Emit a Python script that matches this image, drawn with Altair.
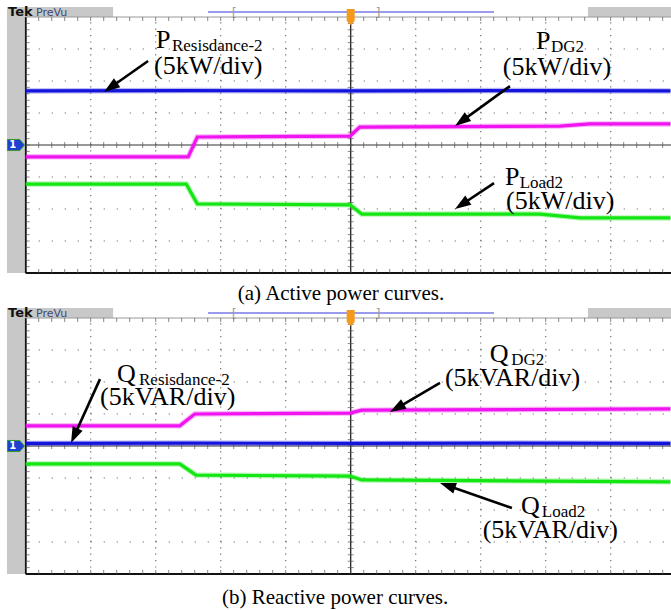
import math
import altair as alt
import pandas as pd

# ---------------- data (units: oscilloscope divisions) ----------------
# (a) active power traces
p_res_t = [0.0, 2.5, 5.0, 7.5, 9.92]
p_res_v = [1.69, 1.70, 1.69, 1.70, 1.69]
p_dg_t = [0.0, 2.50, 2.64, 4.99, 5.14, 8.22, 8.68, 9.92]
p_dg_v = [-0.37, -0.37, 0.25, 0.28, 0.56, 0.59, 0.66, 0.66]
p_load_t = [0.0, 2.47, 2.64, 4.99, 5.17, 7.91, 8.53, 9.92]
p_load_v = [-1.22, -1.22, -1.84, -1.87, -2.16, -2.16, -2.28, -2.28]
# (b) reactive power traces
q_res_t = [0.0, 2.5, 5.0, 7.5, 9.92]
q_res_v = [0.08, 0.09, 0.08, 0.09, 0.08]
q_dg_t = [0.0, 2.37, 2.60, 4.99, 5.17, 9.92]
q_dg_v = [0.63, 0.63, 1.00, 1.03, 1.12, 1.16]
q_load_t = [0.0, 2.37, 2.62, 4.99, 5.17, 9.92]
q_load_v = [-0.56, -0.56, -0.91, -0.94, -1.06, -1.12]

# annotation texts
a_main_text = ["P", "(5kW/div)", "P", "(5kW/div)", "P", "(5kW/div)"]
a_sub_text = ["Resisdance-2", "DG2", "Load2"]
b_main_text = ["Q", "(5kVAR/div)", "Q", "(5kVAR/div)", "Q", "(5kVAR/div)"]
b_sub_text = ["Resisdance-2", "DG2", "Load2"]
captions = ["(a) Active power curves.", "(b) Reactive power curves."]

# ---------------- layout / style (kept apart from data) ----------------
CW, CH = 671, 610
PX_X, PX_Y = 65.0, 32.0
XMAX = 9.928
BLUE, MAGENTA, GREEN = "#1414dc", "#f014f0", "#14e614"
SERIF = "Liberation Serif"

a_main_pos = [(2.005, 3.02), (1.974, 2.22), (7.85, 2.99), (7.34, 2.19), (7.375, -1.26), (7.39, -2.00)]
a_sub_pos = [(2.25, 2.94), (8.08, 2.91), (7.60, -1.34)]
a_arrows = [(1.883, 2.625, 1.205, 1.656), (7.45, 1.84, 6.605, 0.594), (7.205, -1.19, 6.605, -2.0)]
b_main_pos = [(1.405, 1.99), (1.143, 1.28), (7.14, 2.61), (6.45, 1.88), (7.62, -2.14), (7.03, -2.87)]
b_sub_pos = [(1.743, 1.91), (7.47, 2.53), (7.94, -2.22)]
b_arrows = [(1.143, 2.09, 0.697, 0.094), (6.374, 1.97, 5.605, 1.06), (7.48, -1.94, 6.374, -1.156)]
caption_pos = [(4.85, -4.84), (4.76, -4.94)]

# scales: whole canvas is the plot area; each panel has its own y mapping
XS = alt.Scale(domain=[-25.7 / PX_X, XMAX], nice=False, zero=False)
YS_A = alt.Scale(domain=[4 + 17 / PX_Y - CH / PX_Y, 4 + 17 / PX_Y], nice=False, zero=False)
YS_B = alt.Scale(domain=[4 + 318 / PX_Y - CH / PX_Y, 4 + 318 / PX_Y], nice=False, zero=False)


def make_layers(ys, traces, main_text, main_pos, sub_text, sub_pos, arrows, cap, cap_pos):
    def X(f="x"):
        return alt.X(f"{f}:Q", scale=XS, axis=None)

    def Y(f="y"):
        return alt.Y(f"{f}:Q", scale=ys, axis=None)

    layers = []
    # gray frame pieces: header bar + left strip
    rects = pd.DataFrame([
        dict(x=-0.288, x2=1.345, y=4.0, y2=4.31, c="#c8c8c8"),
        dict(x=8.65, x2=XMAX, y=4.0, y2=4.31, c="#c8c8c8"),
        dict(x=-0.288, x2=-0.026, y=-4.0, y2=4.31, c="#c8c8c8"),
    ])
    layers.append(alt.Chart(rects).mark_rect().encode(
        x=X(), x2="x2", y=Y(), y2="y2", color=alt.Color("c:N", scale=None)))
    # dotted grid
    vg = pd.DataFrame(dict(x=[1, 2, 3, 4, 6, 7, 8, 9], y=[-4] * 8, y2=[4] * 8))
    layers.append(alt.Chart(vg).mark_rule(color="#6e6e6e", strokeWidth=1.2, strokeDash=[1.2, 5.2]).encode(
        x=X(), y=Y(), y2="y2"))
    hg = pd.DataFrame(dict(y=[-3, -2, -1, 1, 2, 3], x=[0] * 6, x2=[XMAX] * 6))
    layers.append(alt.Chart(hg).mark_rule(color="#6e6e6e", strokeWidth=1.2, strokeDash=[1.2, 11.8]).encode(
        x=X(), x2="x2", y=Y()))
    # blue preview line in header
    layers.append(alt.Chart(pd.DataFrame([dict(x=2.805, x2=7.205, y=4.156)])).mark_rule(
        color="#7878e8", strokeWidth=1.5).encode(x=X(), x2="x2", y=Y()))
    # brackets
    br = pd.DataFrame([dict(x=3.17, y=4.0, t="["), dict(x=5.38, y=4.0, t="]")])
    layers.append(alt.Chart(br).mark_text(font="DejaVu Sans", fontSize=13, color="#a0a0a0",
                                          align="left", baseline="alphabetic").encode(
        x=X(), y=Y(), text="t:N"))
    # Tek / PreVu
    layers.append(alt.Chart(pd.DataFrame([dict(x=-0.272, y=4.03, t="Tek")])).mark_text(
        font="DejaVu Sans", fontSize=13, fontWeight="bold", color="#111111",
        align="left", baseline="alphabetic").encode(x=X(), y=Y(), text="t:N"))
    layers.append(alt.Chart(pd.DataFrame([dict(x=0.16, y=4.03, t="PreVu")])).mark_text(
        font="DejaVu Sans", fontSize=11, color="#3c4a78",
        align="left", baseline="alphabetic").encode(x=X(), y=Y(), text="t:N"))
    # border and centre lines
    border = pd.DataFrame([
        dict(x=0, x2=0, y=-4, y2=4, c="#111111", w=2.0),
        dict(x=0, x2=XMAX, y=-4, y2=-4, c="#111111", w=2.0),
        dict(x=0, x2=XMAX, y=4, y2=4, c="#9a9a9a", w=1.0),
        dict(x=5, x2=5, y=-4, y2=4, c="#222222", w=1.3),
        dict(x=0, x2=XMAX, y=0, y2=0, c="#333333", w=1.0),
    ])
    layers.append(alt.Chart(border).mark_rule().encode(
        x=X(), x2="x2", y=Y(), y2="y2", color=alt.Color("c:N", scale=None),
        strokeWidth=alt.StrokeWidth("w:Q", scale=None)))
    # minor ticks
    xm = [round(0.2 * k, 2) for k in range(1, 50) if 0.2 * k < XMAX]
    ym = [round(-4 + 0.2 * k, 2) for k in range(1, 40)]
    tc = "#555555"
    layers.append(alt.Chart(pd.DataFrame(dict(x=xm, y=[4.0] * len(xm)))).mark_tick(
        orient="vertical", size=4, thickness=1, yOffset=2, color=tc).encode(x=X(), y=Y()))
    layers.append(alt.Chart(pd.DataFrame(dict(x=xm, y=[-4.0] * len(xm)))).mark_tick(
        orient="vertical", size=4, thickness=1, yOffset=-2, color=tc).encode(x=X(), y=Y()))
    layers.append(alt.Chart(pd.DataFrame(dict(x=xm, y=[0.0] * len(xm)))).mark_tick(
        orient="vertical", size=6, thickness=1, color=tc).encode(x=X(), y=Y()))
    layers.append(alt.Chart(pd.DataFrame(dict(x=[0.0] * len(ym), y=ym))).mark_tick(
        orient="horizontal", size=4, thickness=1, xOffset=2, color=tc).encode(x=X(), y=Y()))
    layers.append(alt.Chart(pd.DataFrame(dict(x=[5.0] * len(ym), y=ym))).mark_tick(
        orient="horizontal", size=6, thickness=1, color=tc).encode(x=X(), y=Y()))
    # orange trigger marker
    layers.append(alt.Chart(pd.DataFrame([dict(x=5.0, y=4.0)])).mark_point(
        shape="M-0.5,-1L0.5,-1L0.5,0.5L0,1L-0.5,0.5Z", size=256, filled=True,
        color="#f39a1c", opacity=1).encode(x=X(), y=Y()))
    # channel 1 marker
    layers.append(alt.Chart(pd.DataFrame([dict(x=-0.15, y=0.0)])).mark_point(
        shape="M-1,-0.65L0.45,-0.65L1,0L0.45,0.65L-1,0.65Z", size=289, filled=True,
        fill="#2040d0", stroke="#2e9b2e", strokeWidth=1, opacity=1).encode(x=X(), y=Y()))
    layers.append(alt.Chart(pd.DataFrame([dict(x=-0.2, y=0.0, t="1")])).mark_text(
        font="DejaVu Sans", fontSize=10, fontWeight="bold", color="white",
        align="center", baseline="middle").encode(x=X(), y=Y(), text="t:N"))

    # traces
    for t, v, color in traces:
        df = pd.DataFrame(dict(x=t, y=v))
        layers.append(alt.Chart(df).mark_line(color=color, strokeWidth=5.5, opacity=0.3).encode(
            x=X(), y=Y()))
        layers.append(alt.Chart(df).mark_line(color=color, strokeWidth=3.2).encode(x=X(), y=Y()))

    # arrows
    rows = []
    for tx, ty, hx, hy in arrows:
        dx = (hx - tx) * PX_X
        dy = -(hy - ty) * PX_Y
        L = math.hypot(dx, dy)
        ux, uy = dx / L, dy / L
        ang = math.degrees(math.atan2(ux, -uy)) % 360
        back = 10
        rows.append(dict(x=tx, y=ty, cx=hx - back * ux / PX_X, cy=hy + back * uy / PX_Y, ang=ang))
    adf = pd.DataFrame(rows)
    layers.append(alt.Chart(adf).mark_rule(color="black", strokeWidth=2.6).encode(
        x=X(), y=Y(), x2="cx", y2="cy"))
    layers.append(alt.Chart(adf).mark_point(shape="M0,-1L0.55,0.6L-0.55,0.6Z", size=400,
                                            filled=True, color="black", opacity=1).encode(
        x=X("cx"), y=Y("cy"), angle=alt.Angle("ang:Q", scale=None)))

    # labels
    main = pd.DataFrame(dict(t=main_text, x=[p[0] for p in main_pos], y=[p[1] for p in main_pos]))
    sub = pd.DataFrame(dict(t=sub_text, x=[p[0] for p in sub_pos], y=[p[1] for p in sub_pos]))
    layers.append(alt.Chart(main).mark_text(font=SERIF, fontSize=26, color="black", align="left",
                                            baseline="alphabetic").encode(x=X(), y=Y(), text="t:N"))
    layers.append(alt.Chart(sub).mark_text(font=SERIF, fontSize=17, color="black", align="left",
                                           baseline="alphabetic").encode(x=X(), y=Y(), text="t:N"))
    # caption
    cdf = pd.DataFrame([dict(t=cap, x=cap_pos[0], y=cap_pos[1])])
    layers.append(alt.Chart(cdf).mark_text(font=SERIF, fontSize=21, color="black", align="center",
                                           baseline="alphabetic").encode(x=X(), y=Y(), text="t:N"))
    return alt.layer(*layers)


pa = make_layers(YS_A, [(p_res_t, p_res_v, BLUE), (p_dg_t, p_dg_v, MAGENTA), (p_load_t, p_load_v, GREEN)],
                 a_main_text, a_main_pos, a_sub_text, a_sub_pos, a_arrows, captions[0], caption_pos[0])
pb = make_layers(YS_B, [(q_dg_t, q_dg_v, MAGENTA), (q_res_t, q_res_v, BLUE), (q_load_t, q_load_v, GREEN)],
                 b_main_text, b_main_pos, b_sub_text, b_sub_pos, b_arrows, captions[1], caption_pos[1])

chart = alt.layer(pa, pb).resolve_scale(y="independent").properties(
    width=CW, height=CH,
    autosize=alt.AutoSizeParams(type="none"),
    padding=0,
    background="white",
).configure_view(strokeWidth=0)

chart.save("out.html", embed_options={"renderer": "svg", "actions": False})
